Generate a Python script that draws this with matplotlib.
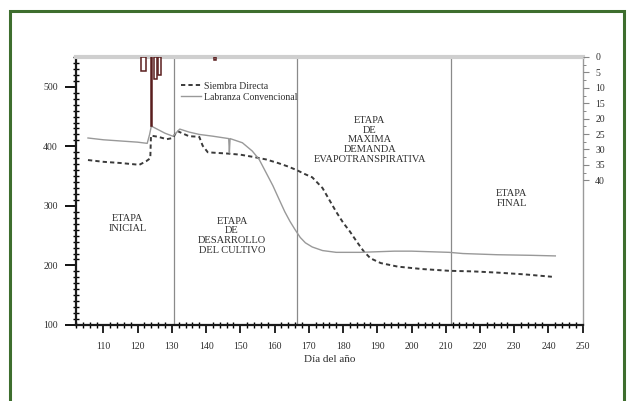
import matplotlib
matplotlib.use("Agg")
import matplotlib.pyplot as plt
from matplotlib.patches import Rectangle
from matplotlib.ticker import MultipleLocator, FixedLocator

# ----------------------------------------------------
# Data
# ----------------------------------------------------
sd_dia = [105.5, 110, 115, 120.5, 122.5, 123.7, 123.9, 126, 128.5, 130.3, 131.5, 133,
          135, 138, 139, 140.5, 143, 146, 150, 154, 157.5, 161, 164, 166.5, 169,
          171, 174, 176, 178, 180, 182, 184, 186, 188, 191, 196, 203, 211, 218,
          225, 233, 241]
sd_val = [377, 374, 372, 369, 375, 380, 418, 416, 412, 414, 426, 422,
          417, 416, 401, 390, 389, 388, 386, 382, 378, 372, 366, 360, 353,
          348, 330, 310, 290, 272, 257, 240, 224, 212, 204, 198, 194, 191, 190,
          188, 185, 181]

lc_dia = [105.5, 110, 115, 120, 122.8, 123.5, 124, 126, 128, 130.3, 132.3, 135,
          138, 142, 146.6, 146.8, 147.0, 150.6, 153.5, 155.5, 157.5, 159.5,
          161.4, 163, 164.5, 166, 167.5, 169, 171, 174, 178, 185, 195, 200,
          211, 215, 225, 235, 242]
lc_val = [414, 411, 409, 407, 405, 420, 434, 428, 422, 417, 429, 424,
          420, 417, 413, 389, 413, 406, 392, 378, 356, 334,
          310, 290, 274, 260, 247, 238, 231, 225, 222, 222, 224, 224,
          222, 220, 218, 217, 216]

lluvia_dia = [121.7, 124.0, 125.2, 126.4, 142.5]
lluvia_mm = [4.5, 22.5, 7.0, 6.0, 1.0]
lluvia_ancho = [1.2, 0.4, 0.8, 0.8, 0.6]

etapa_limites = [130.5, 166.5, 211.5]

etapas = ["ETAPA\nINICIAL",
          "ETAPA\nDE\nDESARROLLO\nDEL CULTIVO",
          "ETAPA\nDE\nMAXIMA\nDEMANDA\nEVAPOTRANSPIRATIVA",
          "ETAPA\nFINAL"]
etapa_pos = [(117, 270), (147.6, 250), (187.8, 411), (229.3, 312)]

serif = "Liberation Serif"
txt_color = "#2e2e2e"

fig = plt.figure(figsize=(6.29, 4.01), dpi=100)

# green frame around the figure
fig.patches.append(Rectangle((9.5 / 629, -0.02), 614.5 / 629, 1 - 11.3 / 401 + 0.02,
                             transform=fig.transFigure, fill=False,
                             edgecolor="#3e6e2e", linewidth=2.2))

ax = fig.add_axes([76 / 629, 76 / 401, 506.7 / 629, 268 / 401])

for d in etapa_limites:
    ax.axvline(d, color="#8a8a8a", linewidth=0.9, zorder=1)

ax.plot(sd_dia, sd_val, linestyle=(0, (2.2, 1.6)), color="#3a3a3a", linewidth=1.4,
        label="Siembra Directa", zorder=3)
ax.plot(lc_dia, lc_val, color="#999999", linewidth=1.0,
        label="Labranza Convencional", zorder=3)

ax.set_xlim(102, 250)
ax.set_ylim(100, 550)

ax.xaxis.set_major_locator(FixedLocator(list(range(110, 251, 10))))
ax.xaxis.set_minor_locator(MultipleLocator(2))
ax.yaxis.set_major_locator(MultipleLocator(100))
ax.yaxis.set_minor_locator(MultipleLocator(10))

ax.tick_params(axis="x", which="major", direction="out", length=6, width=1.2,
               pad=6, labelsize=7, labelcolor=txt_color)
ax.tick_params(axis="x", which="minor", direction="inout", length=5, width=1.0)
ax.tick_params(axis="y", which="major", direction="out", length=8, width=1.3,
               pad=5, labelsize=7, labelcolor=txt_color)
ax.tick_params(axis="y", which="minor", direction="inout", length=5, width=1.0)
for lab in ax.get_xticklabels() + ax.get_yticklabels():
    lab.set_family(serif)

for s in ["left", "bottom"]:
    ax.spines[s].set_linewidth(1.6)
    ax.spines[s].set_color("#1a1a1a")
ax.spines["right"].set_color("#9a9a9a")
ax.spines["right"].set_linewidth(1.0)
ax.spines["top"].set_color("#cfcfcf")
ax.spines["top"].set_linewidth(3.0)

ax.set_xlabel("Día del año", family=serif, fontsize=8, color=txt_color, labelpad=3)

for t, (x, y) in zip(etapas, etapa_pos):
    ax.text(x, y, t, family=serif, fontsize=7.5, color=txt_color,
            ha="center", va="center", linespacing=1.1)

ax.legend(loc="upper left", bbox_to_anchor=(0.19, 0.94), frameon=False,
          prop={"family": serif, "size": 7}, handlelength=2.1,
          handletextpad=0.25, labelspacing=0.2, labelcolor=txt_color)

# precipitation on inverted right axis
ax2 = ax.twinx()
ax2.bar(lluvia_dia, lluvia_mm, width=lluvia_ancho, color="white",
        edgecolor="#5a1e1e", linewidth=1.1, zorder=4)
ax2.set_ylim(87, 0)
ax2.set_xlim(102, 250)
ax2.yaxis.set_major_locator(FixedLocator(list(range(0, 41, 5))))
ax2.yaxis.set_minor_locator(FixedLocator([2.5 + 5 * i for i in range(8)]))
ax2.tick_params(axis="y", which="major", direction="out", length=4, width=0.8,
                pad=5, labelsize=7, colors="#888888")
ax2.tick_params(axis="y", which="major", labelcolor=txt_color)
ax2.tick_params(axis="y", which="minor", direction="out", length=2, width=0.7,
                colors="#888888")
for lab in ax2.get_yticklabels():
    lab.set_family(serif)
for s in ax2.spines.values():
    s.set_visible(False)

fig.savefig("out.png", dpi=100)
